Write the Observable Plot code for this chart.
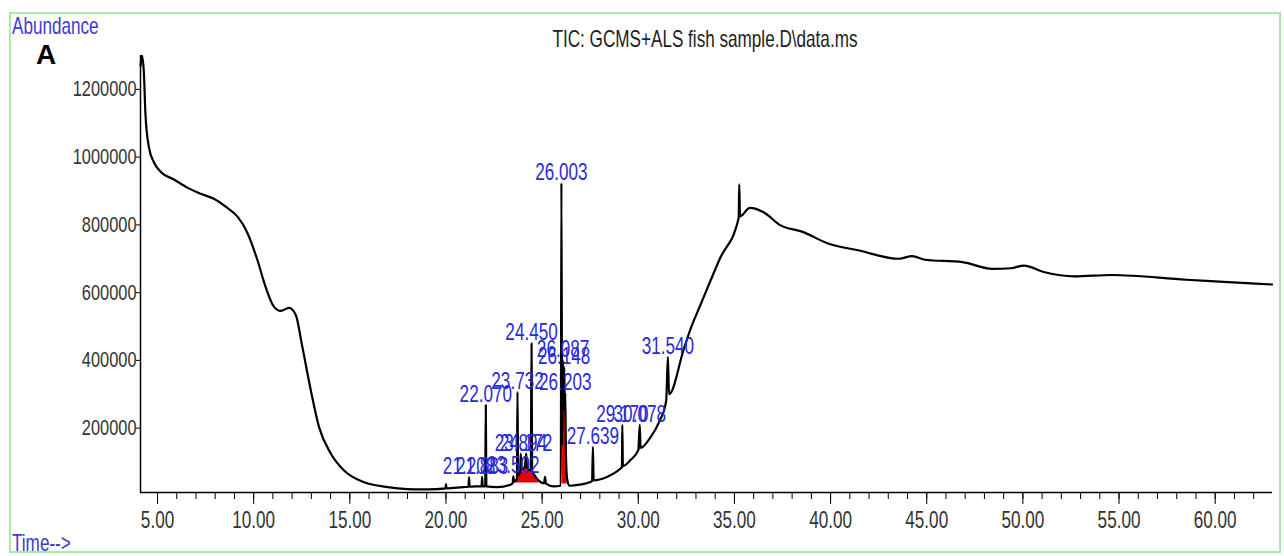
<!DOCTYPE html>
<html><head><meta charset="utf-8">
<script src="https://cdn.jsdelivr.net/npm/d3@7"></script>
<script src="https://cdn.jsdelivr.net/npm/@observablehq/plot@0.6"></script>
<style>body{margin:0;background:#fff} #chart svg{display:block}</style>
</head><body><div id="chart"></div>
<script>
// Retention time (min) and abundance of the TIC trace
const times = [4.12,4.19,4.29,4.37,4.55,4.81,5.16,5.85,6.55,7.24,7.93,8.63,9.15,9.67,10.19,10.62,11.06,11.41,11.84,12.19,12.53,12.97,13.4,14.0,14.7,15.75,16.97,18.0,18.66,19.5,19.97,20.0,20.03,20.9,21.17,21.2,21.23,21.5,21.85,21.88,21.91,22.04,22.07,22.1,22.66,23.35,23.47,23.5,23.55,23.69,23.72,23.75,23.86,23.89,23.92,24.1,24.17,24.22,24.41,24.45,24.48,24.56,24.82,25.1,25.15,25.2,25.6,25.97,26.003,26.04,26.087,26.12,26.148,26.18,26.203,26.24,26.3,26.43,26.95,27.47,27.6,27.64,27.68,28.37,29.06,29.15,29.17,29.2,29.58,30.0,30.078,30.12,30.6,31.1,31.45,31.54,31.6,32.35,32.7,33.28,34.24,35.22,35.25,35.29,35.8,36.58,37.35,38.52,39.87,41.43,43.56,44.24,44.92,46.86,48.41,49.38,50.06,51.13,52.68,54.62,58.5,60.44,62.96];
const abundance = [1270000,1300000,1250000,1130000,1030000,985000,957000,934000,910000,892000,877000,850000,825000,777000,697000,617000,558000,546000,555000,534000,440000,312000,203000,126000,75000,40000,26000,20000,19000,20000,22000,35000,22000,26000,27000,55000,27000,28000,28000,56000,28000,28000,268000,28000,26000,33000,38000,58000,42000,50000,307000,60000,70000,125000,78000,85000,125000,83000,75000,450000,72000,65000,45000,37000,56000,36000,28000,30000,924000,150000,400000,260000,380000,250000,305000,120000,50000,30000,33000,40000,44000,145000,46000,56000,80000,85000,210000,88000,105000,135000,210000,142000,170000,220000,280000,410000,300000,430000,490000,570000,700000,820000,920000,825000,850000,835000,800000,780000,745000,725000,700000,708000,697000,690000,670000,672000,680000,660000,648000,652000,638000,632000,624000];

// Labelled peaks
const peakLabels = ["21.208","21.883","22.070","23.502","23.732","23.894","24.172","24.450","26.003","26.087","26.148","26.203","27.639","29.170","30.078","31.540"];
const peakTimes = [21.2,21.88,22.07,23.5,23.72,23.89,24.17,24.45,26.003,26.087,26.148,26.203,27.64,29.17,30.078,31.54];
const peakTops = [55000,56000,268000,58000,307000,125000,125000,450000,924000,400000,380000,305000,145000,210000,210000,410000];

// Integrated (red) peak regions
const redStart = [23.55,26.04,27.6,29.15,30.0];
const redEnd = [24.82,26.3,27.68,29.2,30.12];
const redBase = [38000,35000,42000,82000,135000];

const yTicks = [200000,400000,600000,800000,1000000,1200000];
const xMajor = [5,10,15,20,25,30,35,40,45,50,55,60];
const xMinor = d3.range(5,63,1);

const FONT = "'Liberation Sans',Arial,sans-serif";

const curve = times.map((t,i)=>({t, v: abundance[i]}));
const peaks = peakLabels.map((label,i)=>({label, t: peakTimes[i], v: peakTops[i]}));
const redPts = [];
redStart.forEach((s,k)=>{
  curve.filter(d=>d.t>=s && d.t<=redEnd[k]).forEach(d=>redPts.push({t:d.t, v:d.v, base:redBase[k], seg:k}));
});

const xDom = [4.115, 62.98];
const chart = Plot.plot({
  width: 1284, height: 556,
  marginLeft: 140, marginRight: 12, marginTop: 55, marginBottom: 64,
  style: {fontFamily: FONT, fontSize: "22px", background: "white", color: "#222", overflow: "visible"},
  x: {domain: xDom, axis: null},
  y: {domain: [10000, 1300000], axis: null},
  marks: [
    Plot.areaY(redPts, {x:"t", y1:"base", y2:"v", z:"seg", fill:"#e60000"}),
    Plot.line(curve, {x:"t", y:"v", stroke:"#000", strokeWidth:2.2, strokeLinejoin:"round", curve:"monotone-x"}),
    Plot.ruleX([xDom[0]], {y1: 10000, y2: 1300000, stroke:"#000", strokeWidth:1.5}),
    Plot.ruleY([10000], {stroke:"#000", strokeWidth:1.5}),
    Plot.axisY({ticks: yTicks, tickSize: 4, tickPadding: 0, tickFormat: d=>String(d), fill:"#333", stroke:"#000", label:null, fontSize: 22}),
    Plot.axisX({ticks: xMinor, tickSize: 7, tickFormat: ()=>"", stroke:"#000", label:null}),
    Plot.axisX({ticks: xMajor, tickSize: 12, tickPadding: 7, tickFormat: d=>d.toFixed(2), fill:"#333", stroke:"#000", label:null, fontSize: 23}),
    Plot.text(peaks, {x:"t", y:"v", text:"label", dy:-3, lineAnchor:"bottom", fill:"#2a2ad6", fontSize:23})
  ]
});
document.getElementById("chart").appendChild(chart);

const svg = d3.select(chart);
svg.append("rect").attr("x",10).attr("y",13).attr("width",1270).attr("height",539)
  .attr("fill","none").attr("stroke","#a6eba6").attr("stroke-width",2);
svg.append("text").attr("x",12).attr("y",34).attr("text-anchor","start").attr("fill","#3b3bcf")
  .style("font-family",FONT).style("font-size","23px").text("Abundance");
svg.append("text").attr("x",12).attr("y",551).attr("text-anchor","start").attr("fill","#3b3bcf")
  .style("font-family",FONT).style("font-size","23px").text("Time-->");
svg.append("text").attr("x",36).attr("y",64).attr("text-anchor","start").attr("fill","#000").attr("class","wide")
  .style("font-family",FONT).style("font-weight","bold").style("font-size","28px").text("A");
svg.append("text").attr("x",705).attr("y",47).attr("text-anchor","middle").attr("fill","#222")
  .style("font-family",FONT).style("font-size","23px").text("TIC: GCMS+ALS fish sample.D\\data.ms");

// Narrow (condensed) lettering like the instrument software
chart.querySelectorAll("text").forEach(el => {
  if (el.classList.contains("wide")) return;
  const bb = el.getBBox();
  const anchor = getComputedStyle(el).textAnchor;
  const ax = anchor === "end" ? bb.x + bb.width : anchor === "middle" ? bb.x + bb.width/2 : bb.x;
  const prev = el.getAttribute("transform") || "";
  el.setAttribute("transform", `${prev} translate(${ax},0) scale(0.745,1) translate(${-ax},0)`);
});
</script>
</body></html>
